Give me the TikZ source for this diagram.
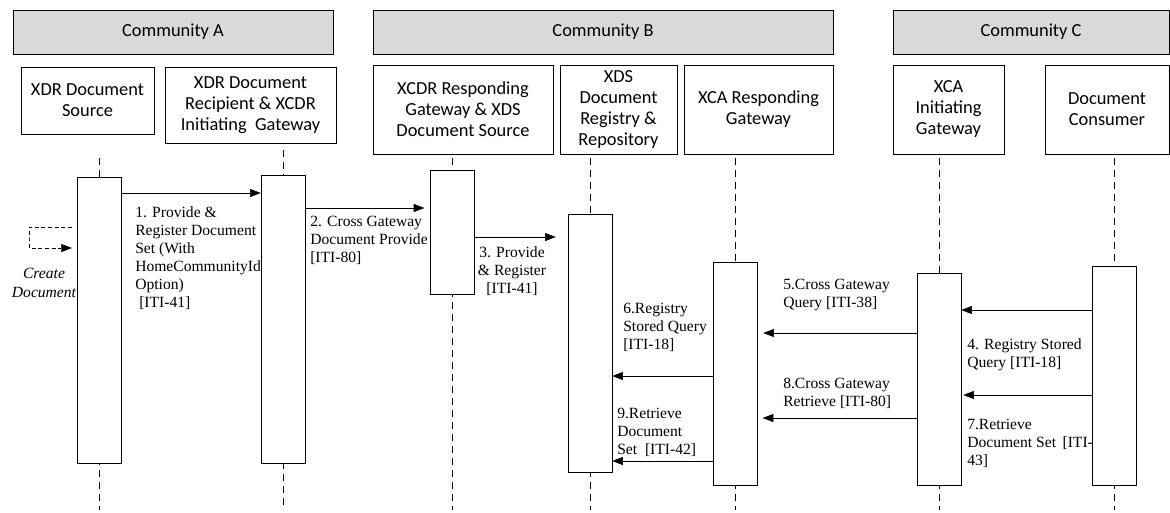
\documentclass[tikz,border=0pt]{standalone}
\usepackage{fontspec}
\setmainfont{Liberation Serif}
\newfontfamily\boxfont{Carlito}
\usetikzlibrary{arrows.meta}

\begin{document}
\begin{tikzpicture}[x=0.75pt,y=-0.75pt,
    comm/.style={draw, fill=gray!30, minimum height=33pt, font=\boxfont\fontsize{13.8}{15.75}\selectfont},
    actor/.style={draw, align=center, minimum height=66.75pt, font=\boxfont\fontsize{13.8}{15.75}\selectfont},
    bar/.style={draw, fill=white, minimum width=33pt, inner sep=0pt},
    life/.style={dash pattern=on 5pt off 4pt},
    msg/.style={-{Triangle[length=8pt,width=6pt]}},
    lbl/.style={anchor=north west, align=left, inner sep=0pt, font=\fontsize{11.7}{13.5}\selectfont}]
    \useasboundingbox (0,0) rectangle (1170,512);

    % communities
    \node[comm, minimum width=240pt] (commA) at (173,32) {Community A};
    \node[comm, minimum width=345pt] (commB) at (603,32) {Community B};
    \node[comm, minimum width=207pt] (commC) at (1031,32) {Community C};

    % actors
    \node[actor, minimum width=99.75pt, minimum height=50.25pt] (src) at (87.5,100.5) {XDR Document\\Source};
    \node[actor, minimum width=128.25pt, minimum height=57pt] (rcp) at (250.5,105) {XDR Document\\Recipient \& XCDR\\Initiating~ Gateway};
    \node[actor, minimum width=135pt] (xcdr) at (463,109.5) {XCDR Responding\\Gateway \& XDS\\Document Source};
    \node[actor, minimum width=87.75pt] (xds) at (618.5,109.5) {XDS\\Document\\Registry \&\\Repository};
    \node[actor, minimum width=111.75pt] (xcar) at (758.5,109.5) {XCA Responding\\Gateway};
    \node[actor, minimum width=83.25pt] (xcai) at (948.5,109.5) {XCA\\Initiating\\Gateway};
    \node[actor, minimum width=93pt] (cons) at (1107,109.5) {Document\\Consumer};

    % lifelines
    \coordinate (srcT) at (99,158);   \coordinate (srcB) at (99,510);
    \coordinate (rcpT) at (283,150);  \coordinate (rcpB) at (283,510);
    \coordinate (xcdrT) at (452,158); \coordinate (xcdrB) at (452,510);
    \coordinate (xdsT) at (590,158);  \coordinate (xdsB) at (590,510);
    \coordinate (xcarT) at (735,158); \coordinate (xcarB) at (735,510);
    \coordinate (xcaiT) at (939,158); \coordinate (xcaiB) at (939,510);
    \coordinate (consT) at (1114,158); \coordinate (consB) at (1114,510);
    \draw[life] (srcT) -- (srcB);
    \draw[life] (rcpT) -- (rcpB);
    \draw[life] (xcdrT) -- (xcdrB);
    \draw[life] (xdsT) -- (xdsB);
    \draw[life] (xcarT) -- (xcarB);
    \draw[life] (xcaiT) -- (xcaiB);
    \draw[life] (consT) -- (consB);

    % activation bars
    \node[bar, minimum height=214.5pt] (srcbar) at (99,320) {};
    \node[bar, minimum height=216pt] (rcpbar) at (283,319) {};
    \node[bar, minimum height=93pt] (xcdrbar) at (452,232) {};
    \node[bar, minimum height=193.5pt] (xdsbar) at (590,343) {};
    \node[bar, minimum height=167.25pt] (xcarbar) at (735,373.5) {};
    \node[bar, minimum height=159pt] (xcaibar) at (939,379) {};
    \node[bar, minimum height=164.25pt] (consbar) at (1114.5,375.5) {};

    % create document
    \coordinate (cdS) at (72,227);
    \coordinate (cdC) at (29,238);
    \coordinate (cdE) at (72,248);
    \draw[msg, dash pattern=on 3pt off 2pt] (cdS) -| (cdC) |- (cdE);
    \node[align=center, inner sep=0pt, anchor=north, font=\itshape\fontsize{11.7}{14}\selectfont] (cdlbl) at (44,268) {Create\\Document};

    % messages
    \draw[msg] (srcbar.east |- 0,193) -- (rcpbar.west |- 0,193);
    \draw[msg, shorten >=4pt] (rcpbar.east |- 0,208) -- (xcdrbar.west |- 0,208);
    \draw[msg, shorten >=9pt] (xcdrbar.east |- 0,237) -- (xdsbar.west |- 0,237);
    \draw[msg] (consbar.west |- 0,310) -- (xcaibar.east |- 0,310);
    \draw[msg, shorten >=4.5pt] (xcaibar.west |- 0,333) -- (xcarbar.east |- 0,333);
    \draw[msg] (xcarbar.west |- 0,376) -- (xdsbar.east |- 0,376);
    \draw[msg, shorten >=1.5pt] (consbar.west |- 0,395) -- (xcaibar.east |- 0,395);
    \draw[msg, shorten >=4pt] (xcaibar.west |- 0,418) -- (xcarbar.east |- 0,418);
    \draw[msg] (xcarbar.west |- 0,461) -- (xdsbar.east |- 0,461);

    % message labels
    \node[lbl] (m1) at (135,206) {1. Provide \&\\Register Document\\Set (With\\HomeCommunityId\\Option)\\ \hspace{3pt}[ITI-41]};
    \node[lbl] (m2) at (310,216) {2. Cross Gateway\\Document Provide\\ {[ITI-80]}};
    \node[lbl, anchor=north, align=center] (m3) at (512,246) {3. Provide\\\& Register\\ {[ITI-41]}};
    \node[lbl] (m4) at (967,338) {4. Registry Stored\\Query [ITI-18]};
    \node[lbl] (m5) at (783,279) {5.Cross Gateway\\Query [ITI-38]};
    \node[lbl] (m6) at (623,303) {6.Registry\\Stored Query\\ {[ITI-18]}};
    \node[lbl] (m7) at (967,419) {7.Retrieve\\Document Set\ \,[ITI-\\43]};
    \node[lbl] (m8) at (783,378) {8.Cross Gateway\\Retrieve [ITI-80]};
    \node[lbl] (m9) at (617,408) {9.Retrieve\\Document\\Set~ [ITI-42]};
\end{tikzpicture}
\end{document}
